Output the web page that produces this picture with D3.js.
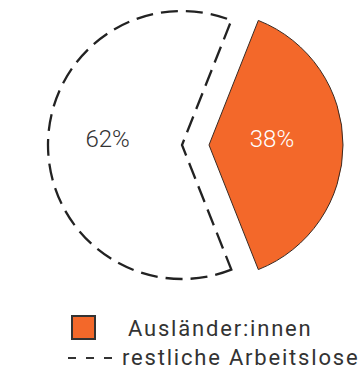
<!DOCTYPE html>
<html>
<head>
<meta charset="utf-8">
<script src="https://cdn.jsdelivr.net/npm/d3@7"></script>
<style>
  html, body { margin: 0; padding: 0; background: #fff; }
  svg { display: block; font-family: Roboto, "Noto Sans", sans-serif; }
</style>
</head>
<body>
<svg id="chart" width="360" height="374"></svg>
<script>
// Shares of the unemployed
const categories = ["Ausländer:innen", "restliche Arbeitslose"];
const values = [38, 62];
const valueLabels = ["38%", "62%"];

const svg = d3.select("#chart");
const cx = 195.5, cy = 145, radius = 134, explode = 13.5;

const startDeg = 90 - values[0] / 100 * 180; // first slice centred on the right
const pie = d3.pie().sort(null).value(d => d)
  .startAngle(startDeg * Math.PI / 180)
  .endAngle(startDeg * Math.PI / 180 + 2 * Math.PI);
const arcs = pie(values);
const arc = d3.arc().innerRadius(0).outerRadius(radius);

const g = svg.append("g").attr("transform", `translate(${cx},${cy})`);

const slice = g.selectAll("g.slice").data(arcs).join("g")
  .attr("class", "slice")
  .attr("transform", d => {
    const a = (d.startAngle + d.endAngle) / 2;
    return `translate(${Math.sin(a) * explode},${-Math.cos(a) * explode})`;
  });

slice.append("path")
  .attr("d", arc)
  .attr("fill", (d, i) => i === 0 ? "#F3682A" : "none")
  .attr("stroke", (d, i) => i === 0 ? "#3a2a22" : "#222")
  .attr("stroke-width", (d, i) => i === 0 ? 1 : 2.3)
  .attr("stroke-dasharray", (d, i) => i === 0 ? null : "17,8")
  .attr("stroke-linejoin", "miter");

slice.append("text")
  .attr("transform", d => {
    const a = (d.startAngle + d.endAngle) / 2;
    const lr = radius * (d.index === 0 ? 0.47 : 0.555);
    return `translate(${Math.sin(a) * lr},${-Math.cos(a) * lr + 2})`;
  })
  .attr("text-anchor", "middle")
  .attr("font-size", 24)
  .attr("font-weight", 300)
  .attr("fill", (d, i) => i === 0 ? "#fff" : "#333")
  .text((d, i) => valueLabels[i]);

// Legend
const legend = svg.append("g");
legend.append("rect")
  .attr("x", 72).attr("y", 316).attr("width", 23).attr("height", 23)
  .attr("fill", "#F3682A").attr("stroke", "#333").attr("stroke-width", 2);
legend.append("text")
  .attr("x", 128).attr("y", 336)
  .attr("font-size", 22).attr("letter-spacing", 1.8).attr("fill", "#333")
  .text(categories[0]);
legend.append("line")
  .attr("x1", 68).attr("x2", 113).attr("y1", 358).attr("y2", 358)
  .attr("stroke", "#333").attr("stroke-width", 2)
  .attr("stroke-dasharray", "8,10");
legend.append("text")
  .attr("x", 122).attr("y", 365)
  .attr("font-size", 22).attr("letter-spacing", 1.8).attr("fill", "#333")
  .text(categories[1]);
</script>
</body>
</html>
